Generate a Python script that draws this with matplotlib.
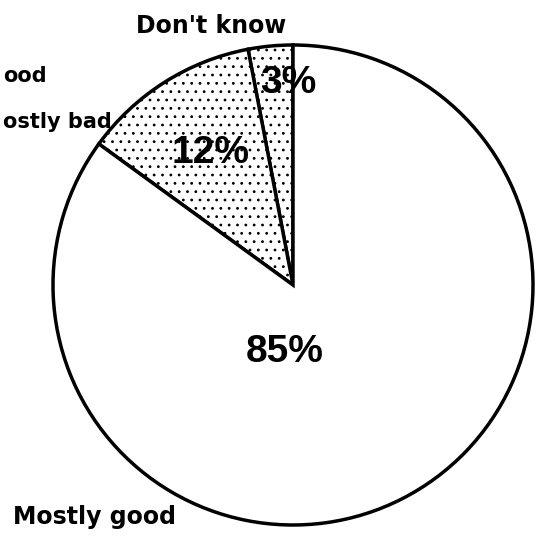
import matplotlib
matplotlib.use("Agg")
import matplotlib.pyplot as plt

# slices, counter-clockwise from 12 o'clock
categories = ["Don't know", "Mostly bad", "Mostly good"]
shares = [3, 12, 85]
pct_labels = ["3%", "12%", "85%"]
hatches = ["..", "..", None]

plt.rcParams['font.family'] = ['DejaVu Sans']
plt.rcParams['hatch.linewidth'] = 0.8

fig = plt.figure(figsize=(5.39, 5.40), dpi=100)
ax = fig.add_axes([0, 0, 1, 1])

wedges, _ = ax.pie(shares, startangle=90, counterclock=True,
                   center=(293, 255), radius=240, frame=True,
                   wedgeprops=dict(facecolor='white', edgecolor='black', linewidth=2.5))
for w, h in zip(wedges, hatches):
    if h:
        w.set_hatch(h)
ax.set_xlim(0, 539)
ax.set_ylim(0, 540)
ax.set_aspect('equal')
ax.axis('off')

# percentage labels
pct_pos = [(288, 447), (211, 377), (285, 178)]
for (x, y), t in zip(pct_pos, pct_labels):
    ax.text(x, y, t, fontsize=28, ha='center', va='baseline',
            family=['Liberation Sans'], weight='bold', color='black')

# category labels; the scan shows two of them clipped at the left edge,
# so only their visible part is written
lab = dict(fontsize=17, weight='bold', va='baseline')
ax.text(211, 507, "Don't know", ha='center', **lab)
ax.text(13, 16, "Mostly good", ha='left', **lab)
side = dict(fontsize=15, weight='bold', va='baseline', ha='left')
ax.text(3, 458, "ood", **side)
ax.text(3, 412, "ostly bad", **side)

fig.savefig("out.png", dpi=100)
